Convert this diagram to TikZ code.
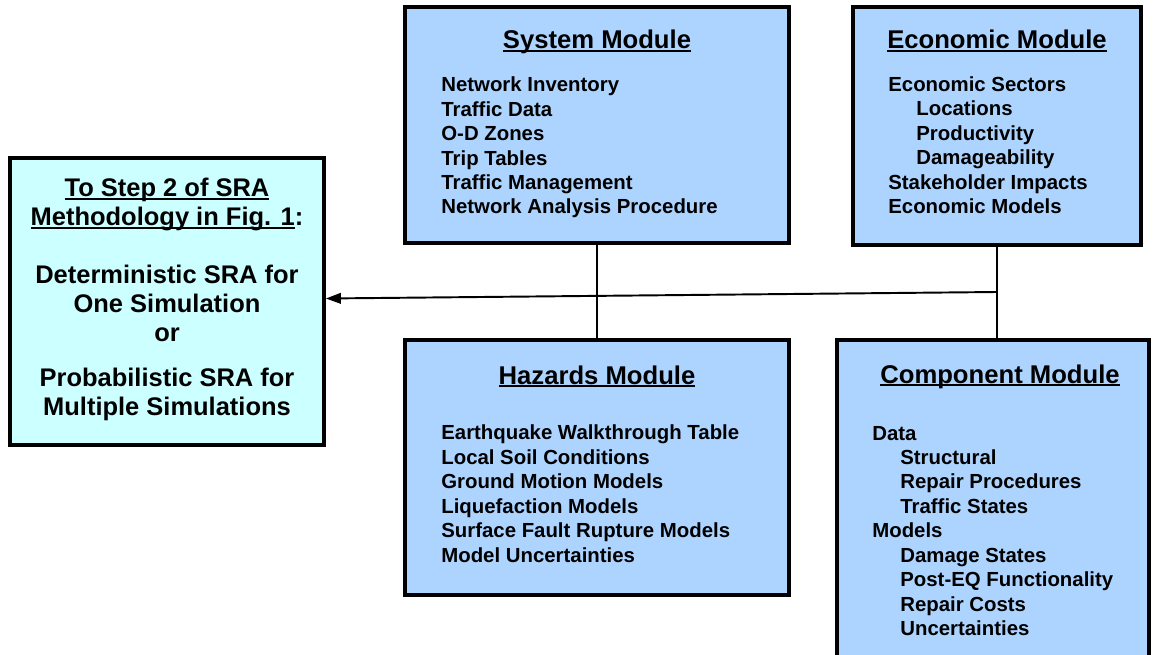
\documentclass[tikz,border=0pt]{standalone}
\usepackage{fontspec}
\setmainfont{Liberation Sans}
\usetikzlibrary{arrows.meta,shadows}
\definecolor{modblue}{RGB}{172,212,255}
\definecolor{stepcyan}{RGB}{204,255,255}
\newcommand{\undl}[1]{\setbox0\hbox{#1}\rlap{\rule[-1.9pt]{\wd0}{1.1pt}}\box0}
\tikzset{
  modbox/.style={draw=black, line width=2.2pt, fill=modblue, inner sep=0pt,
    drop shadow={shadow xshift=1.2pt, shadow yshift=-1.2pt, fill=gray!60, opacity=1}},
  stepbox/.style={modbox, fill=stepcyan},
  modtitle/.style={anchor=base, inner sep=0pt, font=\fontsize{14.6}{17}\selectfont\bfseries},
  % multi-line node: base is the baseline of its last line
  moditems/.style={anchor=base west, inner sep=0pt, align=left, font=\fontsize{11.6}{13.9}\selectfont\bfseries},
  link/.style={line width=1.1pt}
}

\begin{document}
\begin{tikzpicture}[x=0.02cm, y=-0.02cm]
		\useasboundingbox (0, 0) rectangle (1156, 655);
		\clip (0, 0) rectangle (1156, 655);
		
		%%%%% BOXES %%%%%
		\node[modbox, minimum width=7.68cm, minimum height=4.72cm] (sys) at (597, 125) {};
		\node[modbox, minimum width=5.76cm, minimum height=4.76cm] (eco) at (997, 126) {};
		\node[stepbox, minimum width=6.28cm, minimum height=5.74cm] (step) at (167, 301.5) {};
		\node[modbox, minimum width=7.68cm, minimum height=5.1cm] (haz) at (597, 467.5) {};
		\node[modbox, minimum width=6.24cm, minimum height=7.2cm] (comp) at (993, 520) {};
		
		%%%%% TEXT %%%%%
		\node[modtitle] (systitle) at (597, 49) {\undl{System Module}};
		\node[moditems] (sysitems) at (441, 214) {Network Inventory\\ Traffic Data\\ O-D Zones\\ Trip Tables\\ Traffic Management\\ Network Analysis Procedure};
		
		\node[modtitle] (ecotitle) at (997, 49) {\undl{Economic Module}};
		\node[moditems] (ecoitems) at (888, 213.5) {Economic Sectors\\ \hspace{0.56cm}Locations\\ \hspace{0.56cm}Productivity\\ \hspace{0.56cm}Damageability\\ Stakeholder Impacts\\ Economic Models};
		
		\node[modtitle] (haztitle) at (597, 384) {\undl{Hazards Module}};
		\node[moditems] (hazitems) at (441, 562) {Earthquake Walkthrough Table\\ Local Soil Conditions\\ Ground Motion Models\\ Liquefaction Models\\ Surface Fault Rupture Models\\ Model Uncertainties};
		
		\node[modtitle] (comptitle) at (1000, 383) {\undl{Component Module}};
		\node[moditems] (compitems) at (872, 635.5) {Data\\ \hspace{0.56cm}Structural\\ \hspace{0.56cm}Repair Procedures\\ \hspace{0.56cm}Traffic States\\ Models\\ \hspace{0.56cm}Damage States\\ \hspace{0.56cm}Post-EQ Functionality\\ \hspace{0.56cm}Repair Costs\\ \hspace{0.56cm}Uncertainties};
		
		\node[anchor=base, inner sep=0pt, align=center, font=\fontsize{14.5}{16.5}\selectfont\bfseries] (steptext) at (167, 415)
			{\undl{To Step 2 of SRA}\\ \undl{Methodology in Fig. 1}:\\[16.7pt] Deterministic SRA for\\ One Simulation\\ or\\[8.8pt] Probabilistic SRA for\\ Multiple Simulations};
		
		%%%%% LINKS %%%%%
		\draw[link] (sys.south) -- (haz.north);
		\draw[link] (eco.south) -- (eco.south |- comp.north);
		\coordinate (jn) at (eco.south |- 0, 292);
		\draw[link, -{Triangle[length=8.5pt, width=6pt]}] (jn) -- ([yshift=0.06cm]step.east);
	\end{tikzpicture}
\end{document}
